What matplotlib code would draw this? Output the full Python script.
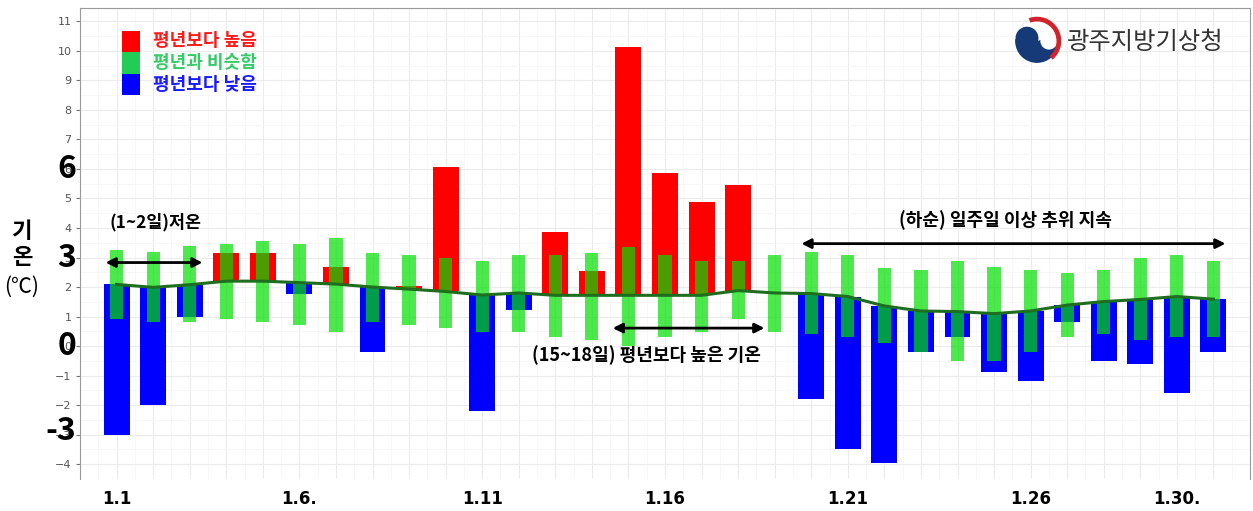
import numpy as np
import matplotlib
matplotlib.use('Agg')
from matplotlib import pyplot as plt
from matplotlib.patches import Rectangle, Circle, Wedge

plt.rcParams['font.family'] = ['Noto Sans CJK KR', 'DejaVu Sans']

# daily data, January (day 1..31)
days = np.arange(1, 32)
normal = [2.09, 1.99, 2.08, 2.2, 2.2, 2.15, 2.1, 2.0, 1.93, 1.85, 1.73, 1.8, 1.72, 1.72, 1.72, 1.72,
          1.72, 1.88, 1.8, 1.78, 1.68, 1.36, 1.19, 1.17, 1.1, 1.19, 1.39, 1.51, 1.58, 1.68, 1.59]
observed = [-3.0, -2.0, 1.0, 3.16, 3.16, 1.78, 2.67, -0.19, 2.02, 6.06, -2.19, 1.21, 3.87, 2.56, 10.13, 5.86,
            4.88, 5.46, 1.8, -1.78, -3.47, -3.97, -0.19, 0.3, -0.88, -1.18, 0.81, -0.49, -0.59, -1.58, -0.19]
range_lo = [0.91, 0.8, 0.8, 0.91, 0.8, 0.7, 0.49, 0.8, 0.7, 0.6, 0.49, 0.49, 0.3, 0.21, 0.02, 0.3,
            0.49, 0.91, 0.49, 0.4, 0.3, 0.11, -0.19, -0.5, -0.5, -0.19, 0.3, 0.4, 0.21, 0.3, 0.3]
range_hi = [3.27, 3.19, 3.38, 3.47, 3.57, 3.47, 3.67, 3.16, 3.07, 2.98, 2.87, 3.07, 3.07, 3.16, 3.37, 3.07,
            2.87, 2.87, 3.07, 3.19, 3.07, 2.66, 2.57, 2.87, 2.67, 2.57, 2.47, 2.57, 2.97, 3.07, 2.87]
tick_days = [1, 6, 11, 16, 21, 26, 30]
tick_names = ['1.1', '1.6.', '1.11', '1.16', '1.21', '1.26', '1.30.']
legend_names = ['평년보다 높음', '평년과 비슷함', '평년보다 낮음']

normal = np.array(normal)
observed = np.array(observed)
diff = observed - normal
colors = np.where(diff >= 0, '#ff0000', '#0000ff')

fig = plt.figure(figsize=(12.53, 5.11), dpi=100)
ax = fig.add_axes([80 / 1253, 32 / 511, 1170 / 1253, 471 / 511])

ax.bar(days, diff, bottom=normal, width=0.71, color=colors, zorder=2)
lo = np.array(range_lo)
hi = np.array(range_hi)
ax.bar(days, hi - lo, bottom=lo, width=0.36, color='#00e000', alpha=0.7, zorder=3)
ax.plot(days, normal, color='#1f6e1f', lw=2.2, zorder=4)

ax.set_xlim(0, 32)
ax.set_ylim(-4.4, 11.45)
ax.set_yticks(range(-4, 12))
ax.set_yticks(np.arange(-4.5, 11.5, 1), minor=True)
ax.set_xticks(days)
ax.set_xticklabels([tick_names[tick_days.index(d)] if d in tick_days else '' for d in days],
                   fontsize=12, fontweight='bold', family=['DejaVu Sans'])
ax.set_xticks(np.arange(0.5, 32, 1), minor=True)
ax.tick_params(axis='x', which='both', length=0, pad=8)
ax.tick_params(axis='y', which='major', length=3, color='#777777', labelcolor='#555555',
               labelsize=8, pad=3)
ax.tick_params(axis='y', which='minor', length=0)
for lab in ax.get_yticklabels():
    lab.set_family('DejaVu Sans')
ax.grid(True, which='major', color='#ececec', lw=0.8, zorder=0)
ax.grid(True, which='minor', color='#f6f6f6', lw=0.6, zorder=0)
ax.set_axisbelow(True)
for side in ['top', 'left', 'right']:
    ax.spines[side].set_color('#999999')
ax.spines['bottom'].set_visible(False)

# big axis numbers
for v, s in [(6, '6'), (3, '3'), (0, '0'), (-3, '-3')]:
    ax.text(-0.003, v + (0.12 if v == -3 else 0), s, transform=ax.get_yaxis_transform(),
            ha='right', va='center', fontsize=23, fontweight='bold', zorder=5)

# annotations
arrow = dict(arrowstyle='<|-|>', color='black', lw=2, mutation_scale=14, shrinkA=0, shrinkB=0)
ax.annotate('', xy=(0.7, 2.83), xytext=(3.35, 2.83), arrowprops=arrow, zorder=6)
ax.text(2.07, 4.2, '(1~2일)저온', ha='center', va='center', fontsize=12.5, fontweight='bold')
ax.annotate('', xy=(14.57, 0.61), xytext=(18.72, 0.61), arrowprops=arrow, zorder=6)
ax.text(15.5, -0.3, '(15~18일) 평년보다 높은 기온', ha='center', va='center', fontsize=13, fontweight='bold')
ax.annotate('', xy=(19.73, 3.47), xytext=(31.33, 3.47), arrowprops=arrow, zorder=6)
ax.text(25.3, 4.28, '(하순) 일주일 이상 추위 지속', ha='center', va='center', fontsize=13, fontweight='bold')

# overlay in pixel coordinates for legend and y label
ov = fig.add_axes([0, 0, 1, 1], zorder=10)
ov.set_xlim(0, 1253)
ov.set_ylim(511, 0)
ov.axis('off')
ov.patch.set_alpha(0)

leg_colors = ['#ff0000', '#22cc55', '#0000ff']
leg_text = ['#ff1a1a', '#33cc66', '#1a1aff']
for i, name in enumerate(legend_names):
    ov.add_patch(Rectangle((122, 31 + i * 21.5), 18, 21.5, color=leg_colors[i], lw=0))
    ov.text(153, 41 + i * 21.5, name, color=leg_text[i], fontsize=13, fontweight='bold',
            ha='left', va='center')

ov.text(1067, 42, '광주지방기상청', fontsize=17.5, color='#333333', ha='left', va='center')

ov.text(22, 231, '기', fontsize=16, fontweight='bold', ha='center', va='center')
ov.text(22, 258, '온', fontsize=16, fontweight='bold', ha='center', va='center')
ov.text(22, 287, '(℃)', fontsize=15, ha='center', va='center')

# logo (simplified government emblem)
lg = fig.add_axes([1012 / 1253, (511 - 66) / 511, 50 / 1253, 50 / 511], zorder=11)
lg.set_xlim(-1.05, 1.05)
lg.set_ylim(-1.05, 1.05)
lg.set_aspect('equal')
lg.axis('off')
navy = '#163a78'
lg.add_patch(Circle((0, 0), 0.92, color=navy, lw=0))
lg.add_patch(Wedge((0, 0), 0.93, 15, 175, color='white', lw=0))
lg.add_patch(Circle((-0.42, 0.12), 0.48, color=navy, lw=0))
lg.add_patch(Circle((0.5, 0.0), 0.36, color='white', lw=0))
lg.add_patch(Wedge((0, 0), 1.02, -50, 110, width=0.2, color='#d2232a', lw=0))

fig.savefig('out.png', dpi=100)
